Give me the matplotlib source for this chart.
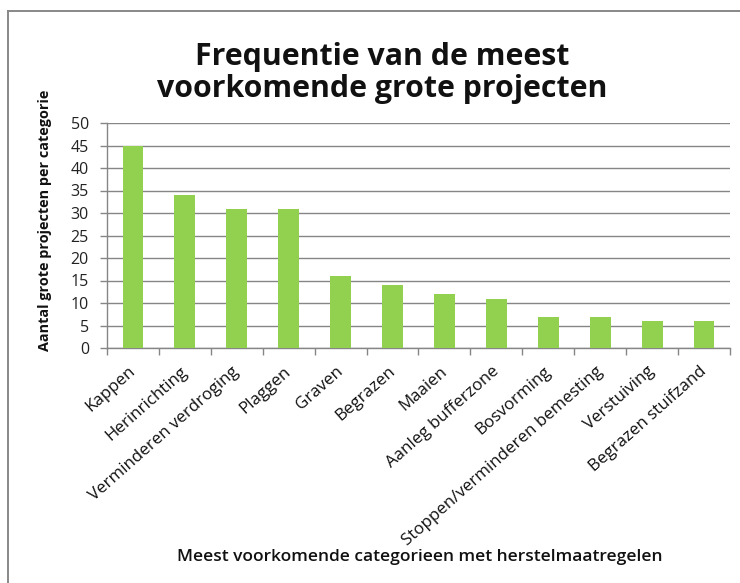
import numpy as np
import matplotlib.pyplot as plt
from matplotlib.lines import Line2D
from matplotlib.transforms import ScaledTranslation

categories = ["Kappen", "Herinrichting", "Verminderen verdroging", "Plaggen", "Graven",
              "Begrazen", "Maaien", "Aanleg bufferzone", "Bosvorming",
              "Stoppen/verminderen bemesting", "Verstuiving", "Begrazen stuifzand"]
counts = [45, 34, 31, 31, 16, 14, 12, 11, 7, 7, 6, 6]
yticks = [0, 5, 10, 15, 20, 25, 30, 35, 40, 45, 50]

plt.rcParams["font.family"] = ["Open Sans", "DejaVu Sans"]
grey = "#868686"

fig = plt.figure(figsize=(7.4, 5.83), dpi=100)
ax = fig.add_axes([107 / 740, 1 - 348 / 583, 623 / 740, 225 / 583])

x = np.arange(len(categories))
ax.bar(x, counts, width=0.40, color="#92D050", zorder=3)

ax.set_xlim(-0.5, len(categories) - 0.5)
ax.set_ylim(0, 50)
ax.set_yticks(yticks)
ax.set_yticklabels([str(v) for v in yticks], fontsize=11.5, color="#222222")
ax.yaxis.grid(True, color=grey, linewidth=1.0, zorder=0)
ax.tick_params(axis="y", length=5, width=1.0, color=grey, pad=8)

# category boundaries carry the tick marks, labels sit at the centres
ax.set_xticks(np.arange(-0.5, len(categories) + 0.5, 1.0))
ax.set_xticklabels([])
ax.tick_params(axis="x", which="major", length=5, width=1.0, color=grey)
ax.set_xticks(x, minor=True)
ax.set_xticklabels(categories, minor=True, rotation=41.5, ha="right",
                   rotation_mode="anchor", fontsize=12.2, color="#111111")
ax.tick_params(axis="x", which="minor", length=0, pad=11)
shift = ScaledTranslation(-5 / 100, 0, fig.dpi_scale_trans)
for lab in ax.get_xticklabels(minor=True):
    lab.set_transform(lab.get_transform() + shift)

for side in ["top", "right"]:
    ax.spines[side].set_visible(False)
for side in ["left", "bottom"]:
    ax.spines[side].set_color(grey)
    ax.spines[side].set_linewidth(1.0)

fig.text(0.516, 1 - 73 / 583, "Frequentie van de meest\nvoorkomende grote projecten",
         ha="center", va="center", fontsize=21.8, fontweight="bold",
         linespacing=1.12, color="#111111")
fig.text(45 / 740, 1 - 220 / 583, "Aantal grote projecten per categorie",
         rotation=90, ha="center", va="center", fontsize=10.4,
         fontweight="bold", color="#111111")
fig.text(420 / 740, 1 - 557 / 583, "Meest voorkomende categorieen met herstelmaatregelen",
         ha="center", va="center", fontsize=12.5, fontweight="semibold", color="#111111")

# chart frame (left and top edges)
fy = 1 - 11 / 583
fx = 8 / 740
fig.add_artist(Line2D([fx, fx], [0, fy], color="#888888", linewidth=1.4))
fig.add_artist(Line2D([fx, 1], [fy, fy], color="#888888", linewidth=1.4))

fig.savefig("out.png", dpi=100)
plt.close(fig)
